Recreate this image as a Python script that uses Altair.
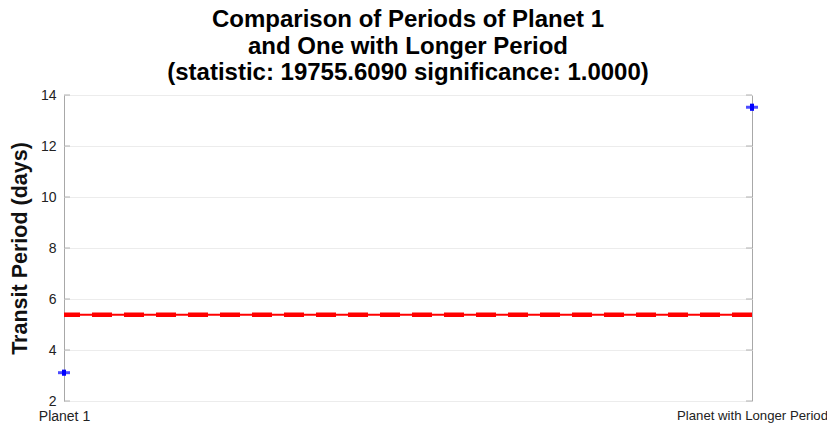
import altair as alt
import pandas as pd

# Data
categories = ["Planet 1", "Planet with Longer Period"]
periods = [3.11, 13.52]
errors = [0.12, 0.14]
reference_line = [5.38]
y_ticks = [2, 4, 6, 8, 10, 12, 14]

title_lines = [
    "Comparison of Periods of Planet 1",
    "and One with Longer Period",
    "(statistic: 19755.6090 significance: 1.0000)",
]

pts = pd.DataFrame({"label": categories, "period": periods, "err": errors})
pts["lo"] = pts["period"] - pts["err"]
pts["hi"] = pts["period"] + pts["err"]
ref = pd.DataFrame({"y": reference_line})
ticks = pd.DataFrame({"t": y_ticks})

FONT = "Liberation Sans"

xscale = alt.Scale(type="point", domain=categories, padding=0)
yscale = alt.Scale(domain=[2, 14], nice=False, zero=False)

base = alt.Chart(pts)

x_enc = alt.X("label:N", scale=xscale, sort=categories,
              axis=alt.Axis(title=None, labelAngle=0, ticks=False, domain=False,
                            labelFontSize={"condition": {"test": "datum.value == 'Planet 1'",
                                                         "value": 14},
                                           "value": 13.2},
                            labelFont=FONT, labelColor="#222222",
                            labelPadding=8, grid=False))
y_enc = alt.Y("period:Q", scale=yscale,
              axis=alt.Axis(title="Transit Period (days)", values=y_ticks,
                            titleFontSize=21.5, titleFont=FONT, titleFontWeight="bold",
                            titleColor="#111111", titlePadding=9,
                            labelFontSize=14, labelFont=FONT, labelColor="#222222",
                            labelPadding=8, ticks=False, domain=False,
                            grid=True, gridColor="#ececec", gridWidth=1))

axis_layer = base.mark_point(opacity=0).encode(x=x_enc, y=y_enc)

left_ticks = alt.Chart(ticks).mark_rule(color="#b0b0b0", strokeWidth=1).encode(
    y=alt.Y("t:Q", scale=yscale), x=alt.value(0), x2=alt.value(6))
right_ticks = alt.Chart(ticks).mark_rule(color="#b0b0b0", strokeWidth=1).encode(
    y=alt.Y("t:Q", scale=yscale), x=alt.value(682), x2=alt.value(688))

ref_solid = alt.Chart(ref).mark_rule(color="#ff0000", strokeWidth=2).encode(
    y=alt.Y("y:Q", scale=yscale))
ref_dash = alt.Chart(ref).mark_rule(color="#ff0000", strokeWidth=4.5,
                                    strokeDash=[20, 12]).encode(
    y=alt.Y("y:Q", scale=yscale))

err_rule = base.mark_rule(color="#0000ff", strokeWidth=4).encode(
    x=alt.X("label:N", scale=xscale, sort=categories),
    y=alt.Y("lo:Q", scale=yscale), y2="hi:Q")
err_tick = base.mark_tick(color="#0000ff", thickness=3, size=12, orient="horizontal").encode(
    x=alt.X("label:N", scale=xscale, sort=categories),
    y=alt.Y("period:Q", scale=yscale))

chart = alt.layer(
    axis_layer, left_ticks, right_ticks, ref_solid, ref_dash, err_rule, err_tick
).properties(
    width=688,
    height=306,
    title=alt.TitleParams(text=title_lines, fontSize=24, font=FONT, fontWeight="bold",
                          color="#000000", anchor="middle", lineHeight=26.5, offset=3),
    autosize=alt.AutoSizeParams(type="none"),
    padding={"left": 56, "top": 87, "right": 75, "bottom": 23},
).configure_view(stroke="#a8a8a8", strokeWidth=1)

chart.save("out.html", embed_options={"renderer": "svg", "actions": False})
